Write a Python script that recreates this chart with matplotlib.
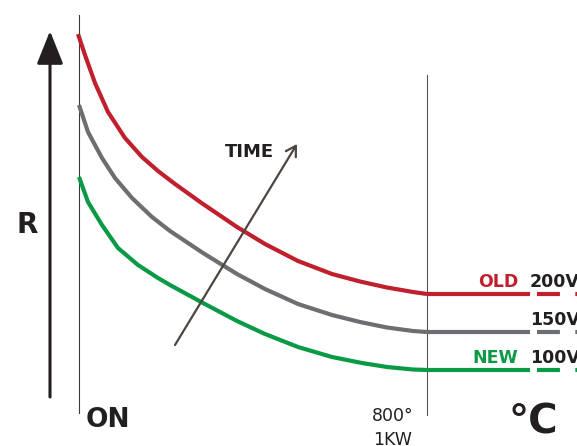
import matplotlib.pyplot as plt

# schematic drawn in picture units (x to the right, R downwards)
red_x = [78, 85, 95, 108, 125, 142, 158, 175, 203, 237, 265, 298, 332,
         360, 387, 413, 427]
red_r = [34, 55, 83, 112, 138, 157, 171, 184, 204, 227, 244, 261, 274,
         281.5, 287.5, 292, 294]

gray_x = [79, 88, 102, 115, 132, 152, 170, 203, 237, 265, 298, 332, 360,
          387, 413, 427]
gray_r = [105, 132, 158, 178, 198, 217, 231, 253, 274, 289, 304, 315, 322,
          327.5, 331, 332]

green_x = [79, 88, 102, 118, 138, 158, 170, 203, 237, 265, 298, 332, 362,
           387, 413, 427]
green_r = [177, 202, 225, 248, 265, 278, 285, 303, 321, 334, 347, 357, 363,
           367, 369.5, 370]

names = ["OLD", "", "NEW"]
volts = ["200V", "150V", "100V"]
colors = ["#c01f2e", "#6d6e71", "#0a9a45"]

ON_X = 79
HOT_X = 427
SOLID_END = 530
DASH_START = 537
DASH_END = 580

ink = "#231f20"

fig = plt.figure(figsize=(5.77, 4.46), dpi=100)
ax = fig.add_axes([0, 0, 1, 1])
ax.set_xlim(0, 577)
ax.set_ylim(446, 0)
ax.axis("off")

# thin markers for ON and 800 deg
ax.plot([ON_X, ON_X], [15, 413], color="#3a3a3a", lw=0.8)
ax.plot([HOT_X, HOT_X], [75, 415], color="#555555", lw=0.8)

curves = [(red_x, red_r), (gray_x, gray_r), (green_x, green_r)]
for (xs, rs), c, name, v in zip(curves, colors, names, volts):
    ax.plot(xs, rs, color=c, lw=3.0, solid_capstyle="butt",
            solid_joinstyle="round")
    level = rs[-1]
    ax.plot([xs[-1], SOLID_END], [level, level], color=c, lw=3.0,
            solid_capstyle="butt")
    ax.plot([DASH_START, DASH_END], [level, level], color=c, lw=3.0,
            linestyle=(0, (5.5, 3.7)), dash_capstyle="butt")
    if name:
        ax.text(518, level - 12, name, color=c, fontsize=12.5,
                fontweight="semibold", ha="right", va="center")
    ax.text(530, level - 12, v, color=ink, fontsize=12.5,
            fontweight="semibold", ha="left", va="center")

# axes arrows
ax.annotate("", xy=(50, 31), xytext=(50, 397),
            arrowprops=dict(arrowstyle="-|>,head_length=1.45,head_width=0.58",
                            color=ink, lw=2.2, mutation_scale=14,
                            shrinkA=0, shrinkB=0))
ax.annotate("", xy=(580, 402), xytext=(49, 396),
            arrowprops=dict(arrowstyle="-|>,head_length=1.45,head_width=0.62",
                            color=ink, lw=2.2, mutation_scale=14,
                            shrinkA=0, shrinkB=0))

# time arrow
ax.annotate("", xy=(297, 144), xytext=(175, 345),
            arrowprops=dict(arrowstyle="->,head_length=0.5,head_width=0.3",
                            color="#4f4540", lw=1.6, mutation_scale=14,
                            shrinkA=0, shrinkB=0))
ax.text(249, 152, "TIME", color=ink, fontsize=13, fontweight="semibold",
        ha="center", va="center")

ax.text(27, 225, "R", color=ink, fontsize=20, fontweight="bold",
        ha="center", va="center")
ax.text(108, 420, "ON", color=ink, fontsize=19, fontweight="bold",
        ha="center", va="center")
ax.text(393, 416, "800°", color=ink, fontsize=12.5, ha="center", va="center")
ax.text(393, 440, "1KW", color=ink, fontsize=12.5, ha="center", va="center")
ax.text(533, 422, "°C", color=ink, fontsize=29, fontweight="semibold",
        ha="center", va="center")

fig.savefig("out.png", dpi=100)
